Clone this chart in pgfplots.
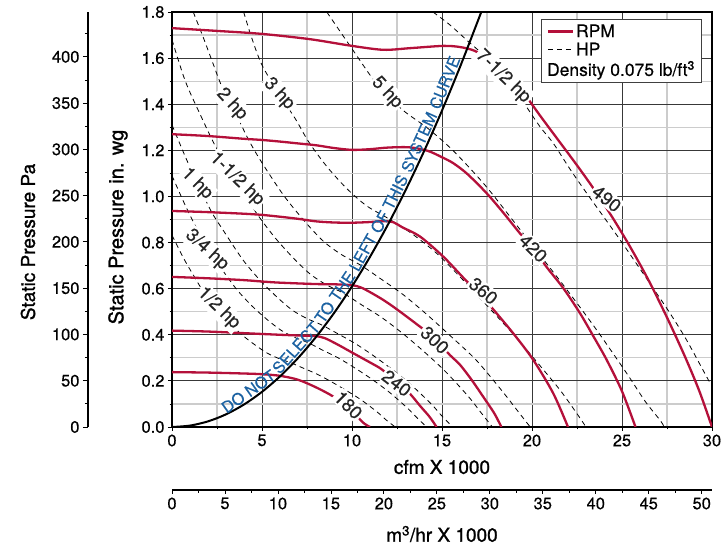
\documentclass[border=0pt]{standalone}
\usepackage{fontspec}
\setmainfont{TeX Gyre Heros}[FakeBold=0.4]
\newfontfamily\titlefont{TeX Gyre Heros}[FakeBold=1.2]
\usepackage{pgfplots}
\pgfplotsset{compat=1.18}
\definecolor{rpm}{RGB}{180,16,58}
\definecolor{sysblue}{RGB}{28,98,162}
\newcommand{\tfont}{\fontsize{16.5}{16.5}\selectfont}
\newcommand{\lfont}{\fontsize{17.5}{17.5}\selectfont}
\newcommand{\cfont}{\fontsize{18.5}{18.5}\selectfont}
\pgfplotsset{
  rpmline/.style={color=rpm, line width=2.3pt, smooth, tension=0.5, forget plot},
  hpline/.style={black, line width=0.8pt, dash pattern=on 5pt off 4pt, smooth, tension=0.5, forget plot},
}
\tikzset{clab/.style={fill=white, inner sep=1.5pt, font=\cfont, text=black!85},
  stext/.style={anchor=south, inner sep=2pt, font=\fontsize{16}{16}\selectfont, text=sysblue}}
\begin{document}
\begin{tikzpicture}[x=1pt,y=1pt]
\useasboundingbox (0,0) rectangle (724,547);
\begin{axis}[
  at={(172pt,120pt)}, anchor=south west,
  scale only axis, width=540pt, height=415pt,
  xmin=0, xmax=30, ymin=0, ymax=1.8,
  xtick={0,5,10,15,20,25,30},
  minor xtick={2.5,7.5,12.5,17.5,22.5,27.5},
  ytick={0,0.2,0.4,0.6,0.8,1.0,1.2,1.4,1.6,1.8},
  minor ytick={0.1,0.3,0.5,0.7,0.9,1.1,1.3,1.5,1.7},
  grid=both,
  major grid style={draw=black!78, line width=0.9pt},
  minor grid style={draw=black!20, line width=1.3pt},
  axis line style={line width=1.8pt},
  tick pos=left, tick align=outside,
  major tick length=4pt, minor tick length=2.5pt,
  tick style={black, line width=0.8pt},
  /pgf/number format/assume math mode=true,
  yticklabel style={/pgf/number format/.cd, fixed, fixed zerofill, precision=1},
  tick label style={font=\tfont},
  legend cell align=left,
  legend style={at={(0.684,0.983)}, anchor=north west, draw=black!75, line width=0.8pt,
    fill=white, font=\lfont, row sep=0pt, inner xsep=5pt, inner ysep=3pt},
  legend image code/.code={\draw[#1] (0pt,0pt) -- (25pt,0pt);},
]
% HP lines (dashed): 1/2, 3/4, 1, 1-1/2, 2, 3, 5, 7-1/2 hp
\addplot[hpline] coordinates {(0,0.832) (0.65,0.731) (1.23,0.653) (1.75,0.586) (2.24,0.538) (3.12,0.457) (3.9,0.399) (4.63,0.355) (5.3,0.32) (5.94,0.297) (6.59,0.279) (7.3,0.255) (8.07,0.229) (8.86,0.196) (9.69,0.158) (10.54,0.116) (11.43,0.063) (11.89,0.031) (12.4,0)};
\addplot[hpline] coordinates {(0,1.09) (0.75,0.959) (1.41,0.855) (2.01,0.768) (2.57,0.706) (3.57,0.599) (4.47,0.523) (5.3,0.465) (6.07,0.419) (6.8,0.389) (7.55,0.366) (8.35,0.334) (9.23,0.3) (10.14,0.257) (11.09,0.208) (12.07,0.151) (13.08,0.082) (13.61,0.04) (14.15,0)};
\addplot[hpline] coordinates {(0,1.31) (0.82,1.158) (1.55,1.036) (2.21,0.931) (2.83,0.855) (3.93,0.726) (4.92,0.634) (5.84,0.563) (6.68,0.507) (7.48,0.471) (8.31,0.443) (9.2,0.405) (10.16,0.363) (11.16,0.311) (12.21,0.251) (13.28,0.183) (14.4,0.1) (14.98,0.049) (15.6,0)};
\addplot[hpline] coordinates {(0,1.68) (0.74,1.5) (1.6,1.35) (2.4,1.22) (3.24,1.115) (4.49,0.951) (5.63,0.83) (6.68,0.738) (7.65,0.665) (8.57,0.617) (9.51,0.581) (10.53,0.53) (11.63,0.476) (12.78,0.408) (13.97,0.329) (15.2,0.24) (16.48,0.131) (17.15,0.064) (17.8,0)};
\addplot[hpline] coordinates {(1.18,1.8) (1.76,1.685) (2.31,1.57) (2.78,1.475) (3.56,1.356) (4.26,1.245) (4.95,1.152) (6.19,1.006) (7.35,0.894) (8.42,0.805) (9.43,0.747) (10.46,0.703) (11.59,0.643) (12.81,0.576) (14.07,0.494) (15.4,0.4) (16.9,0.29) (18.3,0.16) (19.2,0.07) (19.9,0)};
\addplot[hpline] coordinates {(3.98,1.8) (4.44,1.685) (5.0,1.57) (5.93,1.446) (6.85,1.337) (7.6,1.236) (8.6,1.13) (9.7,1.035) (10.8,0.96) (12.0,0.905) (13.3,0.84) (14.75,0.75) (16.2,0.635) (17.7,0.51) (19.1,0.39) (20.4,0.27) (21.56,0.16) (22.48,0.06) (23.0,0)};
\addplot[hpline] coordinates {(8.6,1.8) (9.97,1.644) (11.42,1.483) (12.8,1.376) (14.2,1.296) (15.6,1.2) (17.38,1.05) (19.1,0.88) (20.9,0.7) (22.02,0.587) (23.59,0.421) (25.26,0.233) (26.3,0.11) (27.11,0.03) (27.35,0)};
\addplot[hpline] coordinates {(14.5,1.8) (15.44,1.744) (16.46,1.672) (17.5,1.6) (18.4,1.52) (19.5,1.41) (20.44,1.303) (21.18,1.231) (22.1,1.12) (23.04,1.014) (24.9,0.811) (26.8,0.594) (27.67,0.493) (28.59,0.377) (29.8,0.204) (30,0.18)};
% RPM curves: 180, 240, 300, 360, 420, 490
\addplot[rpmline] coordinates {(0,0.238) (2,0.236) (4,0.232) (5,0.229) (6,0.222) (7,0.205) (8,0.172) (9,0.13) (10,0.07) (10.6,0.02) (11,0)};
\addplot[rpmline] coordinates {(0,0.418) (2,0.414) (4,0.407) (6,0.4) (7,0.397) (8,0.394) (8.5,0.385) (9,0.366) (9.5,0.345) (10,0.323) (11,0.28) (11.56,0.255) (12,0.228) (12.5,0.196) (13.2,0.146) (13.8,0.09) (14.3,0.045) (14.7,0)};
\addplot[rpmline] coordinates {(0,0.651) (2,0.645) (4,0.637) (5,0.631) (6,0.626) (8,0.62) (9,0.619) (10,0.615) (10.5,0.605) (11,0.585) (11.74,0.551) (12.5,0.51) (13.78,0.435) (14.5,0.39) (15.44,0.312) (16,0.27) (16.65,0.204) (17.3,0.13) (17.9,0.06) (18.3,0)};
\addplot[rpmline] coordinates {(0,0.937) (2,0.932) (4,0.925) (5,0.92) (6,0.912) (7,0.903) (8,0.892) (9,0.887) (10,0.886) (11,0.889) (11.7,0.893) (12.3,0.888) (12.8,0.866) (13.78,0.826) (15.07,0.739) (16.3,0.638) (17.3,0.56) (17.85,0.51) (18.96,0.406) (20.07,0.291) (21.18,0.146) (22.0,0)};
\addplot[rpmline] coordinates {(0,1.27) (2,1.262) (4,1.25) (5,1.245) (6,1.238) (7,1.23) (8,1.222) (9,1.21) (10,1.202) (11,1.205) (12,1.212) (13.2,1.213) (14.2,1.198) (15,1.17) (15.63,1.144) (16.4,1.098) (17.48,1.014) (18.4,0.93) (19.33,0.84) (20.07,0.775) (20.8,0.695) (21.74,0.602) (22.67,0.493) (23.4,0.395) (24.15,0.291) (25.0,0.155) (25.75,0)};
\addplot[rpmline] coordinates {(0,1.73) (2.5,1.718) (5,1.705) (7.67,1.682) (10,1.653) (11.74,1.636) (13.2,1.643) (15.07,1.653) (16.0,1.648) (16.8,1.632) (17.6,1.595) (18.6,1.53) (19.5,1.452) (20.5,1.345) (21.5,1.24) (22.5,1.135) (23.5,1.025) (24.5,0.905) (25.5,0.775) (26.5,0.633) (27.5,0.475) (28.5,0.305) (29.3,0.155) (30,0)};
% system curve
\addplot[black, line width=2pt, smooth, forget plot] coordinates {(0,0) (1,0.0061) (2,0.0244) (3,0.0549) (4,0.0976) (5,0.1525) (6,0.2196) (7,0.2989) (8,0.3904) (9,0.4941) (10,0.61) (11,0.7381) (12,0.8784) (13,1.0309) (14,1.1956) (15,1.3725) (16,1.5616) (17,1.7629) (17.18,1.8)};
\node[stext, rotate=35.2] at (axis cs:4.521,0.1247) {DO NOT};
\node[stext, rotate=48.5] at (axis cs:7.238,0.3196) {SELECT};
\node[stext, rotate=55.8] at (axis cs:9.434,0.5429) {TO THE};
\node[stext, rotate=60.6] at (axis cs:11.375,0.7893) {LEFT OF};
\node[stext, rotate=63.5] at (axis cs:12.819,1.0024) {THIS};
\node[stext, rotate=65.6] at (axis cs:14.145,1.2205) {SYSTEM};
\node[stext, rotate=67.7] at (axis cs:15.579,1.4805) {CURVE};
% labels
\node[clab, rotate=-47] at (axis cs:3.33,1.40) {2 hp};
\node[clab, rotate=-47] at (axis cs:5.95,1.445) {3 hp};
\node[clab, rotate=-47] at (axis cs:11.94,1.45) {5 hp};
\node[clab, rotate=-44] at (axis cs:18.4,1.52) {7-1/2 hp};
\node[clab, rotate=-44] at (axis cs:3.61,1.075) {1-1/2 hp};
\node[clab, rotate=-45] at (axis cs:1.39,1.055) {1 hp};
\node[clab, rotate=-42] at (axis cs:1.94,0.768) {3/4 hp};
\node[clab, rotate=-44] at (axis cs:2.6,0.515) {1/2 hp};
\node[clab, rotate=-45] at (axis cs:9.8,0.095) {180};
\node[clab, rotate=-38] at (axis cs:12.48,0.19) {240};
\node[clab, rotate=-43] at (axis cs:14.6,0.377) {300};
\node[clab, rotate=-40] at (axis cs:17.3,0.59) {360};
\node[clab, rotate=-45] at (axis cs:20.07,0.775) {420};
\node[clab, rotate=-38] at (axis cs:24.15,0.99) {490};
% legend
\addlegendimage{color=rpm, line width=2.3pt}
\addlegendentry{RPM}
\addlegendimage{black, line width=0.8pt, dash pattern=on 5pt off 4pt}
\addlegendentry{HP}
\addlegendimage{empty legend}
\addlegendentry{\hspace*{-29pt}Density 0.075 lb/ft\textsuperscript{3}}
\end{axis}
% Pa axis
\begin{axis}[
  at={(88pt,120pt)}, anchor=south west,
  scale only axis, width=10pt, height=415pt,
  xmin=0, xmax=1, ymin=0, ymax=448.4,
  axis x line=none, axis y line*=left,
  axis line style={-, line width=1.8pt},
  ytick={0,50,100,150,200,250,300,350,400},
  minor ytick={25,75,125,175,225,275,325,375,425},
  tick align=outside, major tick length=5pt, minor tick length=3pt,
  tick style={black, line width=0.8pt},
  /pgf/number format/assume math mode=true,
  tick label style={font=\tfont},
]
\addplot[draw=none] coordinates {(0,0) (1,448.4)};
\end{axis}
% m3/hr axis
\begin{axis}[
  at={(172pt,57pt)}, anchor=south west,
  scale only axis, width=540pt, height=10pt,
  xmin=0, xmax=50.97, ymin=0, ymax=1,
  axis y line=none, axis x line*=bottom,
  axis line style={-, line width=1.8pt},
  xtick={0,5,10,15,20,25,30,35,40,45,50},
  minor xtick={2.5,7.5,12.5,17.5,22.5,27.5,32.5,37.5,42.5,47.5},
  tick align=outside, major tick length=4pt, minor tick length=3pt,
  tick style={black, line width=0.8pt},
  /pgf/number format/assume math mode=true,
  tick label style={font=\tfont},
]
\addplot[draw=none] coordinates {(0,0) (50,1)};
\end{axis}
\node[font=\titlefont\fontsize{19}{19}\selectfont] at (442,80) {cfm X 1000};
\node[font=\titlefont\fontsize{19}{19}\selectfont] at (442,13) {m\textsuperscript{3}/hr X 1000};
\node[rotate=90, font=\titlefont\fontsize{20}{20}\selectfont] at (118,320) {Static Pressure in. wg};
\node[rotate=90, font=\titlefont\fontsize{19}{19}\selectfont] at (28,305) {Static Pressure Pa};
\end{tikzpicture}
\end{document}
